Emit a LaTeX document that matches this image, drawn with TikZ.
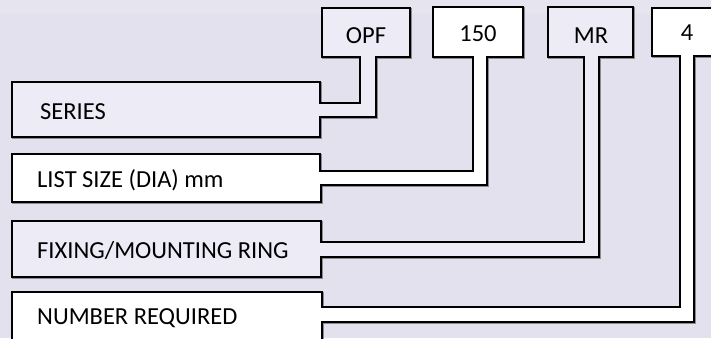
\documentclass[tikz,border=0pt]{standalone}
\usepackage{fontspec}
\setmainfont{Carlito}
\definecolor{bgcol}{HTML}{E2E1ED}
\definecolor{lav}{HTML}{ECEBF6}
\definecolor{shadowcol}{HTML}{8A8A92}
\tikzset{
  plate/.style={draw=black, line width=1.5pt, line join=miter},
  shadowline/.style={draw=shadowcol, line width=1.5pt, shift={(1,1)}},
  lbl/.style={anchor=base west, inner sep=0pt, font=\fontsize{24.5}{28}\selectfont},
  code/.style={anchor=base, inner sep=0pt, font=\fontsize{24.5}{28}\selectfont}
}
\begin{document}
\begin{tikzpicture}[x=1pt,y=-1pt]
\useasboundingbox (0,0) rectangle (711,338);
\clip (0,0) rectangle (711,338);
\fill[bgcol] (0,0) rectangle (711,338);
\fill[bgcol!60!white, opacity=0.4] (0,0) rectangle (711,14);
% SERIES / OPF
\def\pA{(12,82) -- (320,82) -- (320,103) -- (360,103) -- (360,57) -- (322,57) -- (322,8) -- (410,8) -- (410,57) -- (376,57) -- (376,117) -- (320,117) -- (320,137) -- (12,137) -- cycle}
% LIST SIZE / 150
\def\pB{(12,154) -- (320,154) -- (320,171) -- (473,171) -- (473,57) -- (433,57) -- (433,7) -- (523,7) -- (523,57) -- (487,57) -- (487,185) -- (321,185) -- (321,202) -- (12,202) -- cycle}
% FIXING / MR
\def\pC{(12,221) -- (321,221) -- (321,242) -- (584,242) -- (584,57) -- (548,57) -- (548,7) -- (633,7) -- (633,57) -- (599,57) -- (599,257) -- (321,257) -- (321,277) -- (12,277) -- cycle}
% NUMBER / 4
\def\pD{(12,292) -- (322,292) -- (322,307) -- (680,307) -- (680,56) -- (652,56) -- (652,8) -- (720,8) -- (720,56) -- (694,56) -- (694,322) -- (322,322) -- (322,350) -- (12,350) -- cycle}
\foreach \p in {\pA,\pB,\pC,\pD}{ \draw[shadowline] \p; }
\path[plate, fill=lav] \pA;
\path[plate, fill=white] \pB;
\path[plate, fill=lav] \pC;
\path[plate, fill=white] \pD;
\node[lbl] (series) at (40,119.5) {SERIES};
\node[lbl] (list) at (37,187) {LIST SIZE (DIA) mm};
\node[lbl] (fix) at (37,258) {FIXING/MOUNTING RING};
\node[lbl] (num) at (37,324) {NUMBER REQUIRED};
\node[code] (opf) at (366,43) {OPF};
\node[code] (n150) at (478,41) {150};
\node[code] (mr) at (591,43) {MR};
\node[code] (n4) at (687,40) {4};
\end{tikzpicture}
\end{document}
